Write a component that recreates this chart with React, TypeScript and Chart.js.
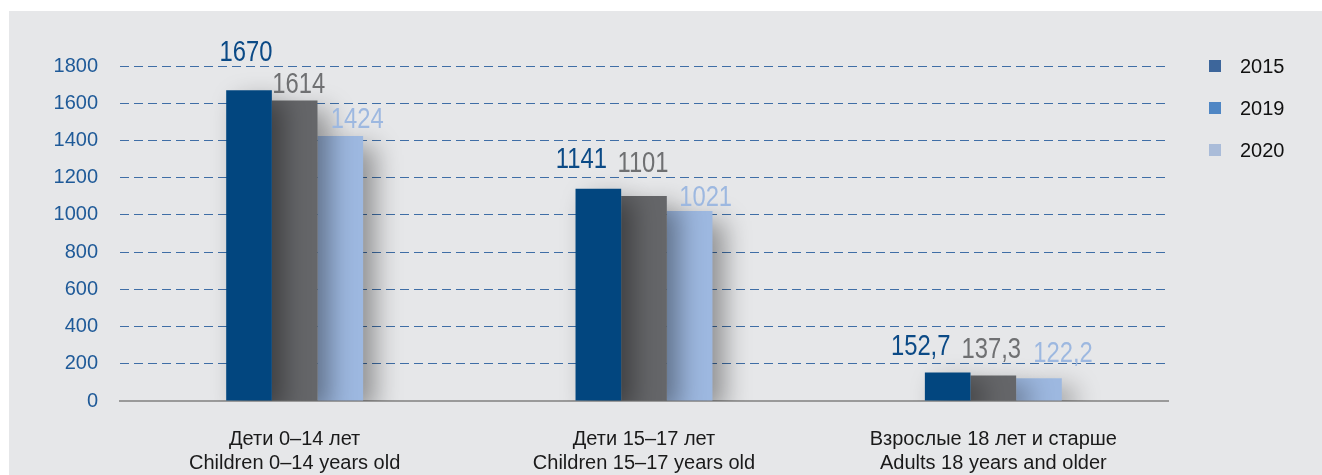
import React, { useEffect, useRef } from "react";
import { Chart, registerables } from "chart.js";

Chart.register(...registerables);

const CATEGORIES: string[][] = [
  ["Дети 0–14 лет", "Children 0–14 years old"],
  ["Дети 15–17 лет", "Children 15–17 years old"],
  ["Взрослые 18 лет и старше", "Adults 18 years and older"],
];
const SERIES_NAMES = ["2015", "2019", "2020"];
const VALUES_2015 = [1670, 1141, 152.7];
const VALUES_2019 = [1614, 1101, 137.3];
const VALUES_2020 = [1424, 1021, 122.2];
const Y_TICKS = [0, 200, 400, 600, 800, 1000, 1200, 1400, 1600, 1800];

const BAR_COLORS = ["#02467f", "#656669", "#9db8e0"];
const LABEL_COLORS = ["#0b4a86", "#6f7072", "#9db8e0"];
const LEGEND_COLORS = ["#3d669b", "#4f86c4", "#aabcd9"];
// label nudges (layout only): [dataset][category]
const LABEL_DX = [
  [-3, -17, -27],
  [4, -1, -2],
  [17, 16, 24],
];
const LABEL_DY = [
  [29, 21, 18],
  [8, 24, 17],
  [8, 5, 16],
];

const SANS = "'Liberation Sans', Arial, sans-serif";

const fmt = (v: number) => String(v).replace(".", ",");

const shadowPlugin = {
  id: "barShadow",
  beforeDatasetsDraw(chart: any) {
    const ctx = chart.ctx;
    ctx.save();
    ctx.shadowColor = "rgba(0,0,0,0.38)";
    ctx.shadowBlur = 26;
    ctx.shadowOffsetX = 12;
    ctx.shadowOffsetY = 10;
  },
  afterDatasetsDraw(chart: any) {
    chart.ctx.restore();
  },
};

const labelPlugin = {
  id: "valueLabels",
  afterDatasetsDraw(chart: any) {
    const ctx = chart.ctx;
    const sx = 0.82;
    chart.data.datasets.forEach((ds: any, di: number) => {
      const meta = chart.getDatasetMeta(di);
      meta.data.forEach((el: any, i: number) => {
        ctx.save();
        ctx.font = `29px ${SANS}`;
        ctx.textAlign = "center";
        ctx.textBaseline = "alphabetic";
        ctx.fillStyle = LABEL_COLORS[di];
        const x = el.x + LABEL_DX[di][i];
        const y = el.y - LABEL_DY[di][i];
        ctx.translate(x, y);
        ctx.scale(sx, 1);
        ctx.fillText(fmt(ds.data[i]), 0, 0);
        ctx.restore();
      });
    });
  },
};

export default function App() {
  const ref = useRef<HTMLCanvasElement | null>(null);

  useEffect(() => {
    if (!ref.current) return;
    const chart = new Chart(ref.current, {
      type: "bar",
      data: {
        labels: CATEGORIES,
        datasets: [VALUES_2015, VALUES_2019, VALUES_2020].map((d, i) => ({
          label: SERIES_NAMES[i],
          data: d,
          backgroundColor: BAR_COLORS[i],
          borderWidth: 0,
          barPercentage: 1,
          categoryPercentage: 0.392,
        })),
      },
      options: {
        animation: false,
        responsive: false,
        maintainAspectRatio: false,
        layout: { padding: { left: 0, right: 154, top: 66, bottom: 0 } },
        plugins: {
          legend: { display: false },
          tooltip: { enabled: false },
        },
        scales: {
          x: {
            grid: { display: false },
            border: { display: true, color: "#9a9a9a", width: 2 },
            ticks: {
              color: "#1a1a1a",
              font: { family: SANS, size: 20, lineHeight: 1.2 },
              padding: 18,
              maxRotation: 0,
              autoSkip: false,
            },
            afterFit(scale: any) {
              scale.height = 74;
            },
          },
          y: {
            min: 0,
            max: 1800,
            afterBuildTicks(scale: any) {
              scale.ticks = Y_TICKS.map((v) => ({ value: v }));
            },
            afterFit(scale: any) {
              scale.width = 120;
            },
            border: { display: false, dash: [9, 5] },
            grid: {
              drawTicks: false,
              color: (c: any) => (c.tick && c.tick.value === 0 ? "rgba(0,0,0,0)" : "#3f6ea6"),
              lineWidth: 1,
            },
            ticks: {
              color: "#1f5a98",
              font: { family: SANS, size: 20 },
              padding: 22,
              callback: (v: any) => String(v),
            },
          },
        },
      },
      plugins: [shadowPlugin, labelPlugin],
    } as any);
    return () => chart.destroy();
  }, []);

  return (
    <div style={{ position: "fixed", left: 0, top: 0, width: 1322, height: 475, background: "#fff", overflow: "hidden" }}>
      <div style={{ position: "absolute", left: 9, top: 11, right: 0, bottom: 0, background: "#e6e7e9" }} />
      <canvas ref={ref} width={1322} height={475} style={{ position: "absolute", left: 0, top: 0, width: 1322, height: 475 }} />
      {SERIES_NAMES.map((n, i) => (
        <div key={n} style={{ position: "absolute", left: 1209, top: 54 + i * 42, height: 24, display: "flex", alignItems: "center" }}>
          <div style={{ width: 12, height: 12, background: LEGEND_COLORS[i] }} />
          <span style={{ marginLeft: 19, font: `20px ${SANS}`, color: "#111" }}>{n}</span>
        </div>
      ))}
    </div>
  );
}
